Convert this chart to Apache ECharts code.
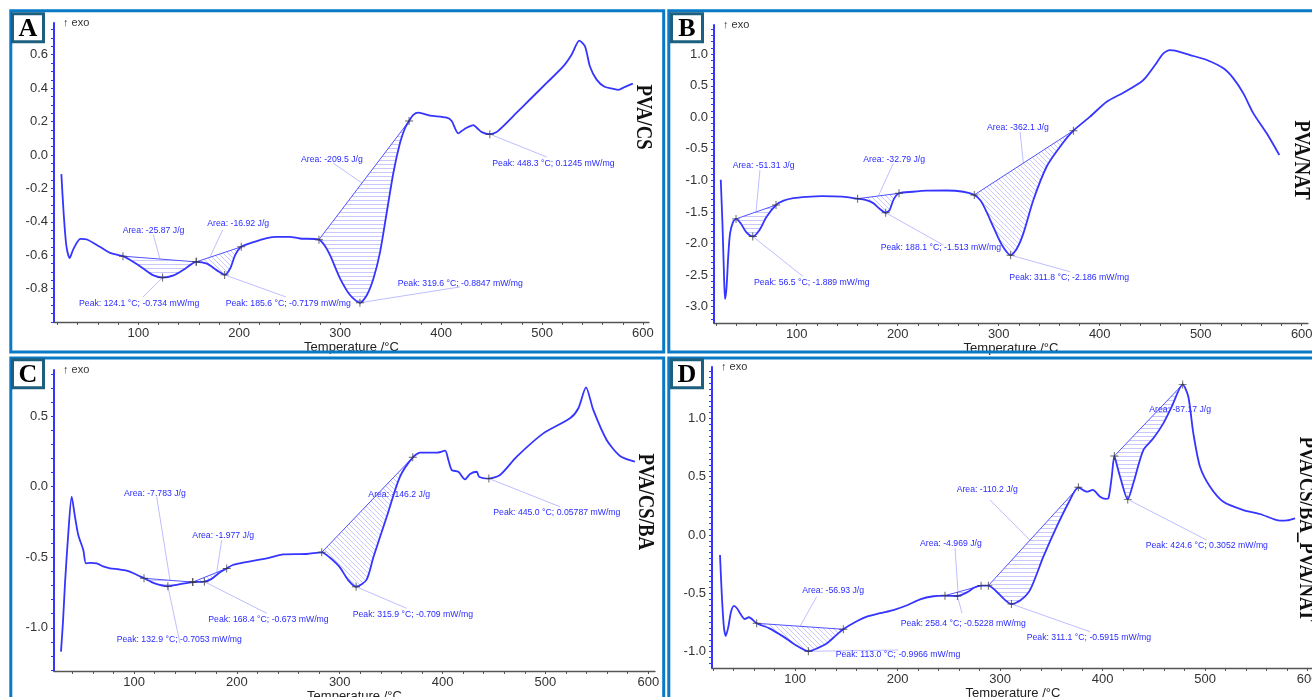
<!DOCTYPE html>
<html><head><meta charset="utf-8">
<script src="https://cdn.jsdelivr.net/npm/echarts@6/dist/echarts.min.js"></script>
<style>html,body{margin:0;padding:0;background:#fff;overflow:hidden}#c{width:1312px;height:697px}</style>
</head><body><div id="c"></div>
<script>
// ---------------- DATA ----------------
const xTickLabels = [100, 200, 300, 400, 500, 600];
const yLabelsA = [-0.8, -0.6, -0.4, -0.2, 0.0, 0.2, 0.4, 0.6];
const yLabelsB = [-3.0, -2.5, -2.0, -1.5, -1.0, -0.5, 0.0, 0.5, 1.0];
const yLabelsC = [-1.0, -0.5, 0.0, 0.5];
const yLabelsD = [-1.0, -0.5, 0.0, 0.5, 1.0];
const panelTitles = ['PVA/CS', 'PVA/NAT', 'PVA/CS/BA', 'PVA/CS/BA_PVA/NAT'];
const panelLetters = ['A', 'B', 'C', 'D'];

const curveA = [[23.8,-0.115],[26,-0.343],[28.7,-0.542],[32,-0.617],[35.8,-0.562],[42.6,-0.502],[49.2,-0.506],[62,-0.55],[72,-0.586],[84.8,-0.606],[95.3,-0.641],[105.2,-0.681],[115.1,-0.721],[124.1,-0.734],[135,-0.721],[146.5,-0.681],[157.4,-0.64],[168,-0.651],[177.9,-0.691],[185.6,-0.7179],[191,-0.68],[196,-0.6],[202,-0.55],[214.2,-0.522],[227.4,-0.498],[237,-0.49],[250,-0.49],[260,-0.5],[279,-0.507],[285,-0.545],[290,-0.6],[300,-0.74],[310,-0.84],[319.6,-0.8847],[326.4,-0.84],[333,-0.74],[339.6,-0.58],[346.2,-0.343],[352.8,-0.105],[359.4,0.074],[364.4,0.163],[368.3,0.203],[372.5,0.24],[377.5,0.253],[389,0.236],[405.6,0.223],[410.5,0.203],[417,0.129],[420.4,0.143],[425.3,0.163],[432,0.179],[435.3,0.163],[440.3,0.137],[448.3,0.1245],[455,0.137],[461.7,0.173],[474.9,0.253],[488,0.332],[504.6,0.431],[521,0.53],[529.3,0.6],[537,0.685],[542.6,0.65],[547.5,0.53],[554.1,0.451],[562,0.408],[570.6,0.396],[575.5,0.39],[582.2,0.408],[590,0.427]];
const curveB = [[24.8,-0.99],[26.5,-1.7],[28,-2.5],[29,-2.88],[30.5,-2.7],[32.2,-2.2],[34,-1.84],[37.2,-1.65],[39.9,-1.61],[45,-1.69],[50,-1.82],[56.5,-1.889],[63,-1.79],[70,-1.58],[79.5,-1.39],[87,-1.32],[96.7,-1.28],[110,-1.26],[125,-1.25],[145,-1.258],[160.3,-1.29],[168,-1.31],[175.8,-1.36],[182,-1.45],[188.1,-1.513],[192,-1.47],[196,-1.3],[201.3,-1.204],[215,-1.18],[228.7,-1.163],[248.5,-1.16],[265,-1.18],[275.8,-1.23],[282,-1.32],[288,-1.5],[295,-1.75],[303,-2.02],[311.8,-2.186],[318,-2.08],[324.4,-1.84],[334.3,-1.31],[347.5,-0.78],[360.7,-0.466],[373.9,-0.212],[390.4,0.01],[406.9,0.247],[423.4,0.39],[439.9,0.548],[445,0.62],[454.8,0.829],[463,1.014],[469.6,1.066],[474.6,1.055],[489.4,0.987],[506,0.908],[522.4,0.776],[532.3,0.618],[542.2,0.38],[552.1,0.063],[565.3,-0.254],[577.8,-0.598]];
const curveC = [[29,-1.169],[31,-0.95],[32.9,-0.685],[36.1,-0.33],[39.4,-0.071],[42.6,-0.213],[45.8,-0.342],[50.7,-0.449],[53.3,-0.543],[58,-0.54],[63.7,-0.543],[70,-0.565],[76.7,-0.578],[85,-0.585],[92.9,-0.595],[100,-0.615],[109.7,-0.649],[120,-0.685],[132.9,-0.7053],[145,-0.69],[157.1,-0.676],[168.4,-0.673],[175,-0.655],[183,-0.61],[190.1,-0.579],[196,-0.555],[203,-0.543],[229,-0.508],[245.1,-0.48],[267.9,-0.477],[282.5,-0.465],[290,-0.5],[300,-0.57],[308,-0.66],[315.9,-0.709],[326,-0.66],[332.7,-0.5],[345.7,-0.213],[358.6,0.071],[371,0.208],[378,0.241],[394.3,0.241],[402.4,0.255],[405.6,0.189],[408.9,0.118],[415.3,0.106],[421.8,0.052],[426.7,0.09],[433.2,0.106],[435.4,0.071],[445,0.05787],[455.8,0.083],[472.1,0.213],[497.9,0.378],[523.9,0.485],[532,0.556],[539.4,0.704],[546.5,0.544],[559.5,0.331],[572.5,0.218],[587,0.177]];
const curveD = [[26.8,-0.171],[28.5,-0.5],[30.5,-0.78],[32.4,-0.866],[35,-0.785],[37.5,-0.66],[40.5,-0.608],[43.5,-0.63],[46.3,-0.67],[51,-0.72],[55,-0.705],[62.6,-0.757],[75,-0.8],[88.6,-0.871],[100,-0.94],[113,-0.9966],[122,-0.97],[130.9,-0.93],[140,-0.86],[147.1,-0.808],[158,-0.75],[170,-0.7],[183,-0.67],[195.9,-0.643],[210,-0.6],[222,-0.551],[235,-0.525],[246.3,-0.52],[258.4,-0.5228],[268,-0.49],[275,-0.45],[281.5,-0.434],[288.6,-0.434],[296,-0.48],[304,-0.55],[311.1,-0.5915],[320,-0.56],[329.3,-0.471],[342.3,-0.186],[355.3,0.071],[366.6,0.272],[376.4,0.409],[384.6,0.371],[390.4,0.386],[397.6,0.328],[403,0.31],[405.7,0.314],[409,0.5],[411.5,0.677],[414,0.6],[417.1,0.5],[424.6,0.3052],[430,0.443],[439.8,0.728],[449.6,0.829],[459.3,0.957],[467.5,1.1],[478.2,1.291],[483.7,1.185],[488.6,0.871],[495.1,0.585],[504.9,0.414],[517.9,0.285],[537.4,0.214],[553.7,0.18],[573.2,0.123],[580,0.125],[587.8,0.143]];

// integration limits: [T1, v1, T2, v2]
const areasA = [[84.8,-0.606,157.4,-0.64],[157.4,-0.64,202,-0.55],[279,-0.507,368.3,0.203]];
const areasB = [[39.9,-1.61,79.5,-1.39],[160.3,-1.29,201.3,-1.204],[275.8,-1.23,373.9,-0.212]];
const areasC = [[109.7,-0.649,157.1,-0.676],[157.1,-0.676,190.1,-0.579],[282.5,-0.465,371,0.208]];
const areasD = [[62.6,-0.757,147.1,-0.808],[246.3,-0.52,281.5,-0.434],[288.6,-0.434,376.4,0.409],[411.5,0.677,478.2,1.291]];
const areaTextA = ['Area: -25.87 J/g','Area: -16.92 J/g','Area: -209.5 J/g'];
const areaTextB = ['Area: -51.31 J/g','Area: -32.79 J/g','Area: -362.1 J/g'];
const areaTextC = ['Area: -7.783 J/g','Area: -1.977 J/g','Area: -146.2 J/g'];
const areaTextD = ['Area: -56.93 J/g','Area: -4.969 J/g','Area: -110.2 J/g','Area: -87.17 J/g'];
// peaks: [T °C, mW/mg]
const peaksA = [[124.1,-0.734],[185.6,-0.7179],[319.6,-0.8847],[448.3,0.1245]];
const peaksB = [[56.5,-1.889],[188.1,-1.513],[311.8,-2.186]];
const peaksC = [[132.9,-0.7053],[168.4,-0.673],[315.9,-0.709],[445.0,0.05787]];
const peaksD = [[113.0,-0.9966],[258.4,-0.5228],[311.1,-0.5915],[424.6,0.3052]];

// ---------------- LAYOUT (label anchors in data coords) ----------------
const areaPosA = [[84.5,-0.453,115,-0.479,121.5,-0.623],[168.4,-0.409,183.6,-0.449,171,-0.612],[261.2,-0.026,292.9,-0.048,321.6,-0.168]];
const areaPosB = [[36.6,-0.767,63.6,-0.835,59.7,-1.5],[165.9,-0.666,195.6,-0.729,180.8,-1.247],[288.4,-0.159,321.1,-0.23,324.4,-0.726]];
const areaPosC = [[90.3,-0.047,122,-0.071,135,-0.663],[156.7,-0.347,185.2,-0.378,180.4,-0.608],[327.8,-0.059]];
const areaPosD = [[107.1,-0.478,121.1,-0.529,104.9,-0.783],[221.9,-0.071,256.1,-0.114,259,-0.489],[257.7,0.385,290.2,0.3,329.2,-0.044],[445.6,1.071]];
const peakPosA = [[41.3,-0.888,104.7,-0.85],[186.6,-0.888,246.3,-0.85],[357,-0.768,418.7,-0.79],[450.7,-0.051,504.6,-0.012]];
const peakPosB = [[57.7,-2.615,106.5,-2.526],[183.1,-2.06,245.1,-2.024],[310.5,-2.536,370.6,-2.447]];
const peakPosC = [[83.2,-1.081,144.7,-1.11],[172.2,-0.94,229,-0.897],[312.6,-0.904,365.1,-0.862],[449.3,-0.181,514.1,-0.142]];
const peakPosD = [[139.7,-1.029,200.8,-0.986],[203.1,-0.763,262.9,-0.669],[326,-0.877,387.8,-0.829],[442.1,-0.094,501.6,-0.043]];

const panels = [
  {curve: curveA, areas: areasA, areaText: areaTextA, areaPos: areaPosA, peaks: peaksA, peakPos: peakPosA, hatch: ['h','d','h'], yLabels: yLabelsA},
  {curve: curveB, areas: areasB, areaText: areaTextB, areaPos: areaPosB, peaks: peaksB, peakPos: peakPosB, hatch: ['h','d','d'], yLabels: yLabelsB},
  {curve: curveC, areas: areasC, areaText: areaTextC, areaPos: areaPosC, peaks: peaksC, peakPos: peakPosC, hatch: ['h','d','d'], yLabels: yLabelsC},
  {curve: curveD, areas: areasD, areaText: areaTextD, areaPos: areaPosD, peaks: peaksD, peakPos: peakPosD, hatch: ['d','h','h','h'], yLabels: yLabelsD}
];
const layout = [
  {grid:{left:54, top:23, width:595, height:299}, x:[16.5,606], y:[-1.0,0.79], yStep:0.05},
  {grid:{left:714, top:25, width:594, height:298}, x:[18.1,606.2], y:[-3.26,1.463], yStep:0.1},
  {grid:{left:54, top:370, width:601, height:301}, x:[22.2,606.5], y:[-1.306,0.827], yStep:0.1},
  {grid:{left:712, top:367, width:602, height:301}, x:[19,606.3], y:[-1.14,1.44], yStep:0.05}
];

function stepsIn(a, b, step) {
  const out = [];
  const k0 = Math.ceil(a / step - 1e-9);
  for (let k = k0; k * step <= b + 1e-9; k++) out.push(+(k * step).toFixed(4));
  return out;
}
const xMinorTicks = stepsIn(20, 600, 20);

function makePattern(kind) {
  const c = document.createElement('canvas');
  const col = 'rgba(110,110,255,0.38)';
  if (kind === 'h') {
    c.width = 4; c.height = 4;
    const g = c.getContext('2d'); g.fillStyle = col; g.fillRect(0, 0, 4, 1);
  } else {
    c.width = 5; c.height = 5;
    const g = c.getContext('2d'); g.fillStyle = col;
    for (let i = 0; i < 5; i++) g.fillRect(i, i, 1, 1);
  }
  return {image: c, repeat: 'repeat'};
}
const patterns = {h: makePattern('h'), d: makePattern('d')};

const FONT = '"Liberation Sans", Arial, sans-serif';
const BLUE = '#3535ff';
const PLUS = 'path://M4.4,0H5.6V4.4H10V5.6H5.6V10H4.4V5.6H0V4.4H4.4Z';

const grids = [], xAxes = [], yAxes = [], series = [];
panels.forEach((p, i) => {
  const L = layout[i];
  grids.push(Object.assign({outerBoundsMode: 'none', containLabel: false}, L.grid));
  xAxes.push({
    type: 'value', gridIndex: i, min: L.x[0], max: L.x[1],
    name: 'Temperature /°C', nameLocation: 'middle', nameGap: 17,
    nameTextStyle: {color: '#222', fontSize: 13, fontFamily: FONT},
    axisLine: {onZero: false, lineStyle: {color: '#555', width: 1.3}},
    axisTick: {show: true, customValues: xMinorTicks, length: 3, lineStyle: {color: '#555'}},
    axisLabel: {customValues: xTickLabels, color: '#333', fontSize: 13, margin: 5, fontFamily: FONT},
    splitLine: {show: false}
  });
  yAxes.push({
    type: 'value', gridIndex: i, min: L.y[0], max: L.y[1],
    name: '↑ exo', nameLocation: 'end', nameGap: 0,
    nameTextStyle: {color: '#333', fontSize: 11, fontFamily: FONT, align: 'left', verticalAlign: 'middle', padding: [0, 0, 0, 9]},
    axisLine: {onZero: false, lineStyle: {color: BLUE, width: 2}},
    axisTick: {show: true, customValues: stepsIn(L.y[0], L.y[1], L.yStep), length: 3, lineStyle: {color: BLUE}},
    axisLabel: {customValues: p.yLabels, color: '#333', fontSize: 13, margin: 6, fontFamily: FONT, formatter: v => Number(v).toFixed(1)},
    splitLine: {show: false}
  });

  // hatched integration areas with baseline chords
  series.push({
    type: 'custom', xAxisIndex: i, yAxisIndex: i, z: 3, silent: true,
    data: p.areas.map((a, k) => [a[0], a[1], k]),
    renderItem: (params, api) => {
      const k = api.value(2);
      const a = p.areas[k];
      const pts = [api.coord([a[0], a[1]])];
      p.curve.forEach(c => { if (c[0] > a[0] && c[0] < a[2]) pts.push(api.coord(c)); });
      const e = api.coord([a[2], a[3]]);
      pts.push(e);
      return {type: 'group', children: [
        {type: 'polygon', shape: {points: pts}, style: {fill: patterns[p.hatch[k]], stroke: null}},
        {type: 'line', shape: {x1: pts[0][0], y1: pts[0][1], x2: e[0], y2: e[1]}, style: {stroke: '#5252ff', lineWidth: 1}}
      ]};
    }
  });

  // DSC curve
  series.push({
    type: 'line', xAxisIndex: i, yAxisIndex: i, data: p.curve, showSymbol: false,
    smooth: 0.25, lineStyle: {color: BLUE, width: 1.8}, z: 5, silent: true
  });

  // + markers
  const marks = [];
  p.areas.forEach(a => { marks.push([a[0], a[1]]); marks.push([a[2], a[3]]); });
  p.peaks.forEach(pk => marks.push(pk));
  series.push({
    type: 'scatter', xAxisIndex: i, yAxisIndex: i, data: marks, symbol: PLUS, symbolSize: 8,
    itemStyle: {color: '#3a3a3a'}, z: 6, silent: true
  });

  // annotations
  const notes = [];
  p.areaText.forEach((t, k) => {
    const q = p.areaPos[k];
    notes.push({text: t, at: [q[0], q[1]], from: q.length > 2 ? [q[2], q[3]] : null, to: q.length > 2 ? [q[4], q[5]] : null});
  });
  p.peaks.forEach((pk, k) => {
    const q = p.peakPos[k];
    notes.push({text: 'Peak: ' + pk[0].toFixed(1) + ' °C; ' + pk[1] + ' mW/mg', at: [q[0], q[1]], from: pk, to: [q[2], q[3]]});
  });
  series.push({
    type: 'custom', xAxisIndex: i, yAxisIndex: i, z: 4, silent: true,
    data: notes.map((n, k) => [n.at[0], n.at[1], k]),
    renderItem: (params, api) => {
      const n = notes[api.value(2)];
      const pt = api.coord(n.at);
      const children = [];
      if (n.from) {
        const f = api.coord(n.from), t = api.coord(n.to);
        children.push({type: 'line', shape: {x1: f[0], y1: f[1], x2: t[0], y2: t[1]}, style: {stroke: 'rgba(110,110,255,0.45)', lineWidth: 1}});
      }
      children.push({type: 'text', x: pt[0], y: pt[1], style: {text: n.text, fill: '#2b2bff', font: '8.7px ' + FONT, align: 'left', verticalAlign: 'middle'}});
      return {type: 'group', children};
    }
  });
});

// frames, letters, vertical titles
const frames = [[10.8,10.8,652.9,341.2],[668.8,10.8,700,341.2],[10.8,358,652.9,400],[668.8,358,700,400]];
const letterBoxes = [[12.5,13.8],[671.5,13.8],[12.5,359.8],[671.5,359.8]];
const titlePos = [[643.3,117],[1301.7,160],[645,501.7],[1306.7,529]];
const graphic = [];
frames.forEach(f => graphic.push({type: 'rect', shape: {x: f[0], y: f[1], width: f[2], height: f[3]}, style: {fill: 'none', stroke: '#0b7ac6', lineWidth: 3}, z: 50, silent: true}));
letterBoxes.forEach((b, i) => {
  graphic.push({type: 'rect', shape: {x: b[0], y: b[1], width: 31, height: 28}, style: {fill: '#fff', stroke: '#1c5f7f', lineWidth: 3}, z: 51, silent: true});
  graphic.push({type: 'text', x: b[0] + 15.5, y: b[1] + 15, style: {text: panelLetters[i], font: 'bold 26px "Liberation Serif", "DejaVu Serif", serif', fill: '#000', align: 'center', verticalAlign: 'middle'}, z: 52, silent: true});
});
titlePos.forEach((t, i) => {
  graphic.push({type: 'text', x: t[0], y: t[1], rotation: -Math.PI / 2, scaleX: 0.78, style: {text: panelTitles[i], font: 'bold 24px "Liberation Serif", "DejaVu Serif", serif', fill: '#111', align: 'center', verticalAlign: 'middle'}, z: 52, silent: true});
});

const chart = echarts.init(document.getElementById('c'), null, {renderer: 'canvas'});
chart.setOption({
  animation: false,
  backgroundColor: '#fff',
  grid: grids, xAxis: xAxes, yAxis: yAxes, series: series,
  graphic: {elements: graphic}
});
</script>
</body></html>
